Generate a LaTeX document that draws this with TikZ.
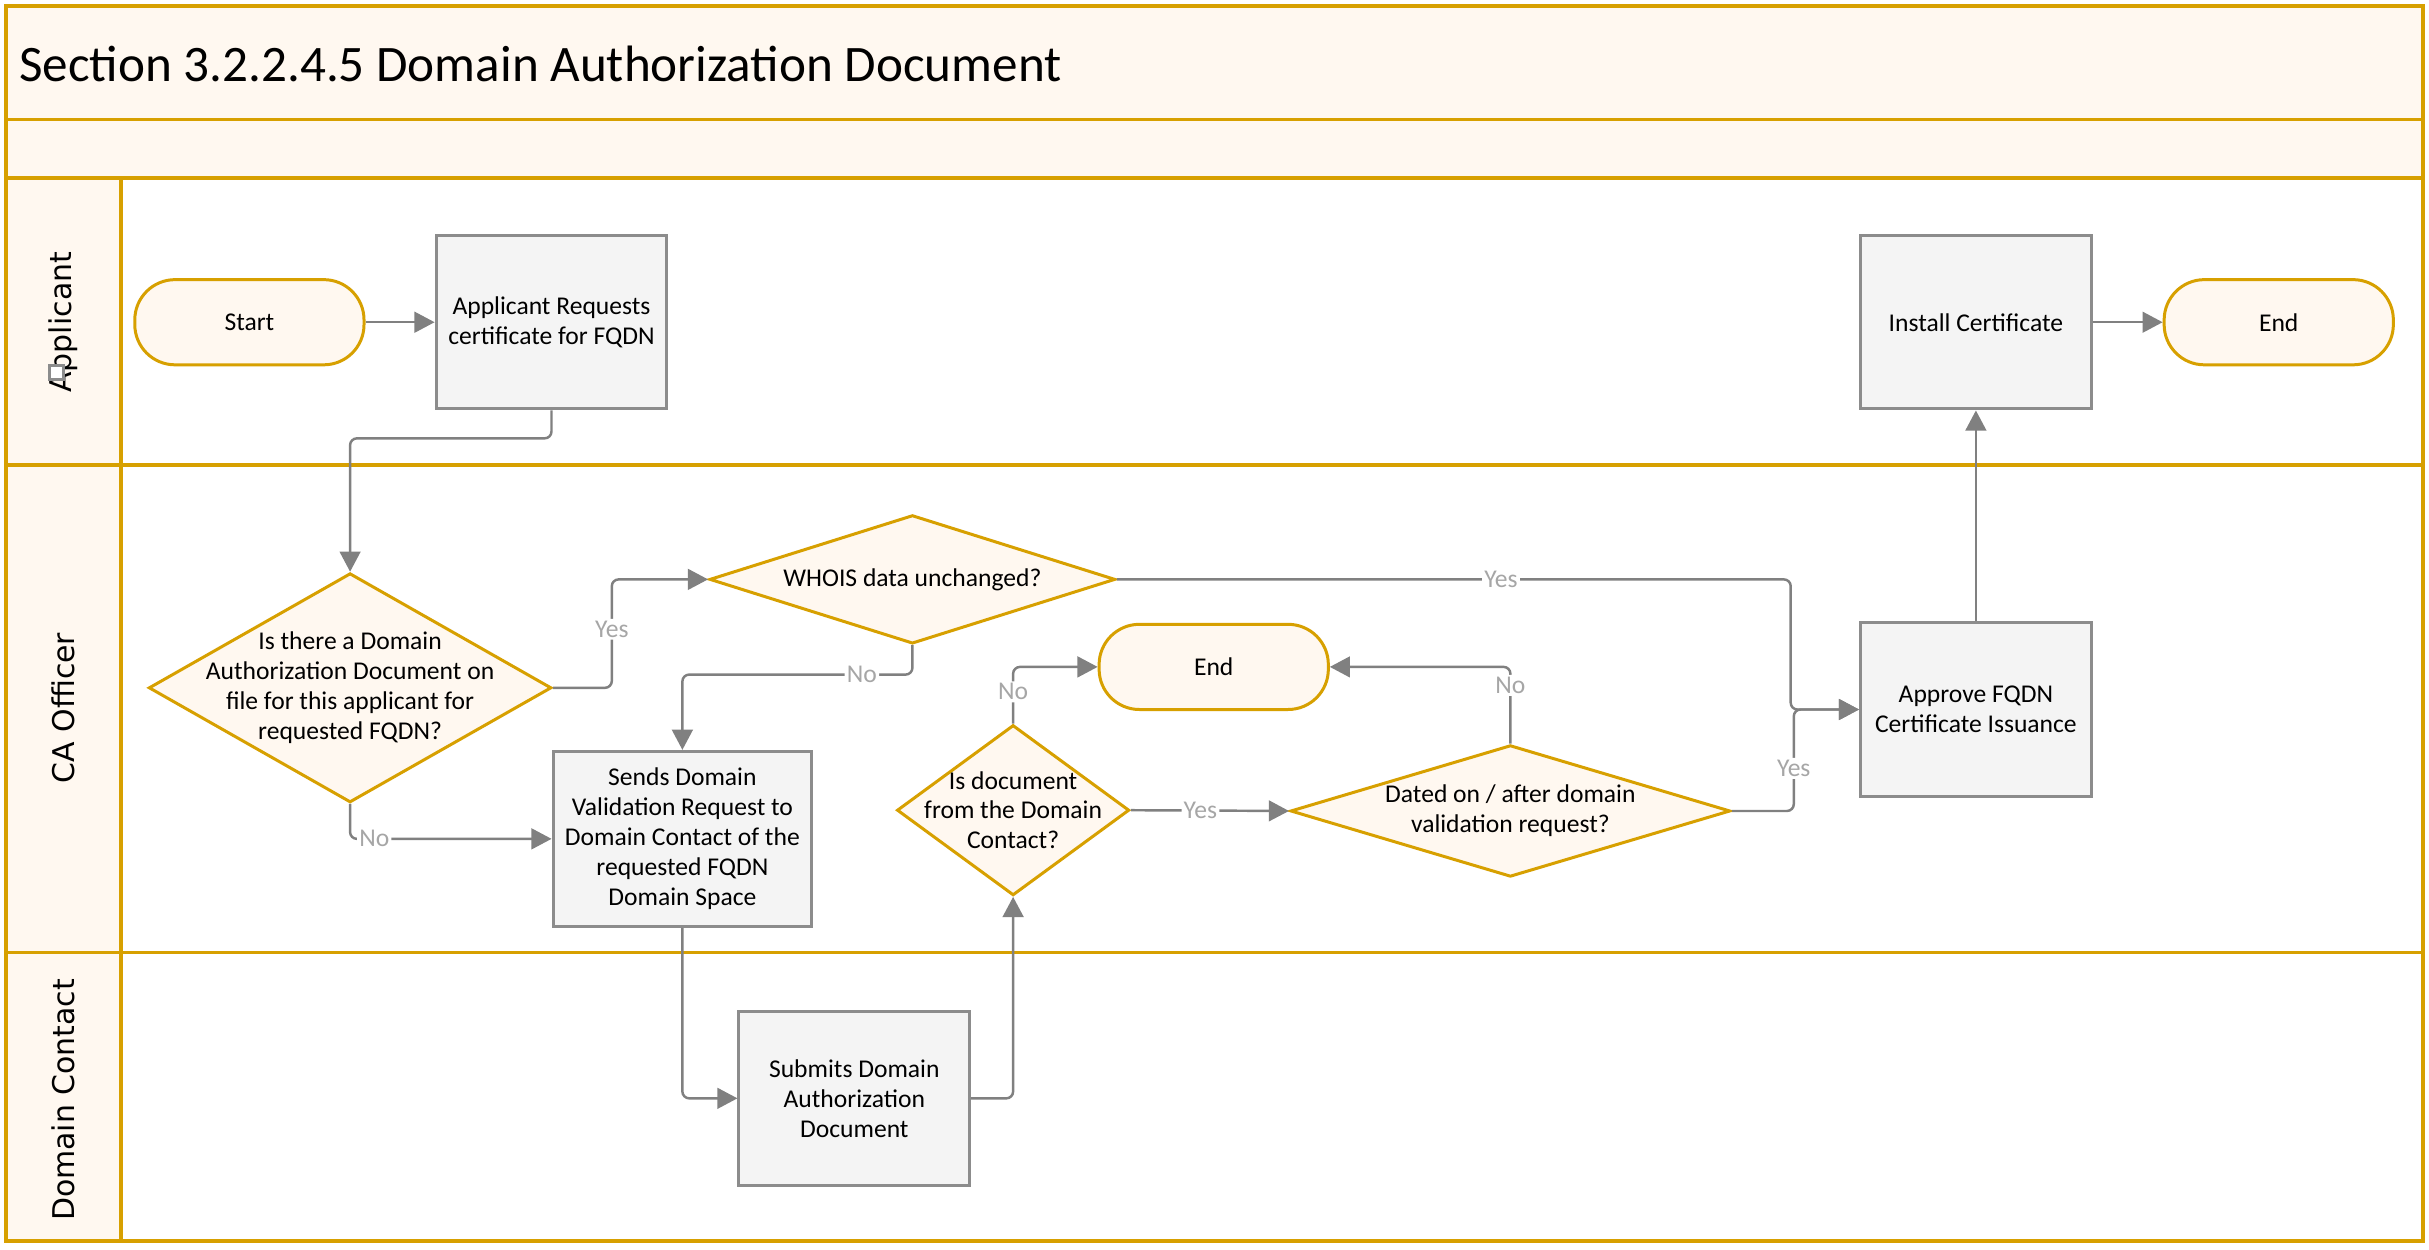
\documentclass[tikz,border=0pt]{standalone}
\usepackage{fontspec}
\setmainfont{Carlito}
\newfontfamily\lanefont{DejaVu Sans}
\usetikzlibrary{shapes.geometric,arrows.meta}
\definecolor{gold}{RGB}{215,160,0}
\definecolor{cream}{RGB}{255,248,240}
\definecolor{boxgray}{RGB}{140,140,140}
\definecolor{boxfill}{RGB}{244,244,244}
\definecolor{conncol}{RGB}{128,128,128}
\definecolor{lblgray}{RGB}{166,166,166}
\newcommand\boxfont{\fontsize{9.4}{11}\selectfont}
\begin{document}
\begin{tikzpicture}[x=0.02cm,y=-0.02cm,
  lane/.style={draw=gold,line width=1.3pt},
  term/.style={draw=gold,fill=cream,line width=1.1pt,rounded corners=0.52cm,minimum width=2.96cm,minimum height=1.1cm,font=\boxfont},
  proc/.style={draw=boxgray,fill=boxfill,line width=1.1pt,minimum width=2.98cm,minimum height=2.24cm,align=center,font=\boxfont},
  dia/.style={diamond,draw=gold,fill=cream,line width=1.1pt,inner sep=0pt},
  dtext/.style={align=center,font=\boxfont,inner sep=0pt},
  lanelabel/.style={rotate=90,font=\lanefont\fontsize{11}{13}\selectfont},
  conn/.style={draw=conncol,line width=0.9pt,rounded corners=2.5pt,-{Triangle[length=7.4pt,width=7.6pt]}},
  lbl/.style={font=\boxfont,text=lblgray,fill=white,inner sep=0.8pt},
]
\useasboundingbox (0,0) rectangle (1568,806.3);
% bands and lanes
\fill[white] (4,4) rectangle (1564,801);
\fill[cream] (4,4) rectangle (1564,115);
\fill[cream] (4,115) rectangle (78,801);
\draw[lane] (4,77) -- (1564,77);
\draw[lane] (4,115) -- (1564,115);
\draw[lane] (4,300) -- (1564,300);
\draw[lane] (4,615) -- (1564,615);
\draw[lane] (78,115) -- (78,801);
\draw[lane] (4,4) rectangle (1564,801);

\node[anchor=west,font=\fontsize{18.8}{22}\selectfont,inner sep=0pt] (title) at (12,41) {Section 3.2.2.4.5 Domain Authorization Document};

\node[lanelabel] (lapp) at (41,208) {Applicant};
\node[lanelabel] (lca) at (41,457) {CA Officer};
\node[lanelabel] (ldc) at (41,710) {Domain Contact};
\draw[draw=boxgray,fill=white,line width=1pt] (32,236) rectangle (41,245);

% nodes
\node[term] (start) at (161,208) {Start};
\node[proc] (req) at (356,208) {Applicant Requests\\certificate for FQDN};
\node[proc] (install) at (1275.5,208) {Install Certificate};
\node[term] (end1) at (1471,208) {End};

\node[dia,minimum width=5.2cm,minimum height=2.96cm] (d1) at (226,444) {};
\node[dtext] (d1t) at (d1) {Is there a Domain\\Authorization Document on\\file for this applicant for\\requested FQDN?};
\node[dia,minimum width=5.24cm,minimum height=1.66cm] (whois) at (589,374) {};
\node[dtext] (whoist) at (whois) {WHOIS data unchanged?};
\node[proc,minimum width=3.34cm,minimum height=2.26cm] (sends) at (440.5,541.5) {Sends Domain\\Validation Request to\\Domain Contact of the\\requested FQDN\\Domain Space};
\node[dia,minimum width=3cm,minimum height=2.2cm] (doc) at (654,523) {};
\node[dtext] (doct) at (doc) {Is document\\from the Domain\\Contact?};
\node[term] (end2) at (783.5,430.5) {End};
\node[dia,minimum width=5.68cm,minimum height=1.7cm] (dated) at (975,523.5) {};
\node[dtext] (datedt) at (dated) {Dated on / after domain\\validation request?};
\node[proc] (approve) at (1275.5,458) {Approve FQDN\\Certificate Issuance};
\node[proc] (submits) at (551.5,709) {Submits Domain\\Authorization\\Document};

% connectors
\draw[conn] (start.east) -- (req.west);
\draw[conn] (req.south) -- ++(0,18) -| (d1.north);
\draw[conn] (d1.east) -- ++(38,0) |- (whois.west) node[lbl,pos=0.27] {Yes};
\draw[conn] (whois.south) -- ++(0,19) -| (sends.north) node[lbl,pos=0.11] {No};
\draw[conn] (d1.south) |- (sends.west) node[lbl,pos=0.56] {No};
\draw[conn] (sends.south) |- (submits.west);
\draw[conn] (submits.east) -| (doc.south);
\draw[conn] (doc.north) |- (end2.west) node[lbl,pos=0.28] {No};
\draw[conn] (doc.east) -- (dated.west) node[lbl,pos=0.44] {Yes};
\draw[conn] (dated.north) |- (end2.east) node[lbl,pos=0.38] {No};
\draw[conn] (dated.east) -- ++(40,0) |- (approve.west) node[lbl,pos=0.21] {Yes};
\draw[conn] (whois.east) -- ++(435,0) node[lbl,pos=0.57] {Yes} |- (approve.west);
\draw[conn] (approve.north) -- (install.south);
\draw[conn] (install.east) -- (end1.west);
\end{tikzpicture}
\end{document}
